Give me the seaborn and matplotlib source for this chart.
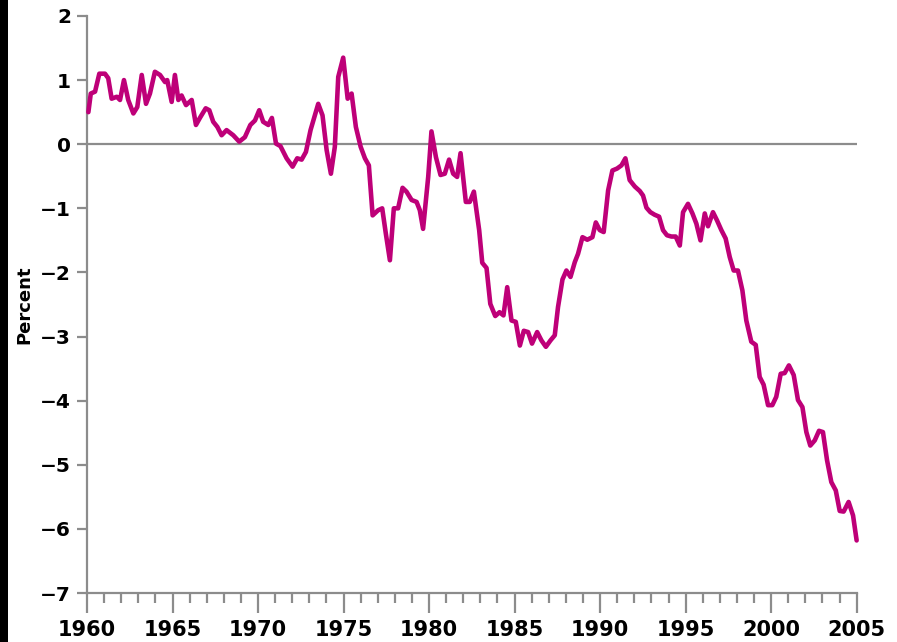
import matplotlib
matplotlib.use('Agg')
import matplotlib.pyplot as plt
import numpy as np
import pandas as pd
import seaborn as sns
from matplotlib.patches import Rectangle
from matplotlib.ticker import MultipleLocator

# Valores (ano, percentual)
years = [
    1960.08, 1960.22, 1960.47, 1960.72, 1961.05, 1961.24, 1961.44, 1961.74, 1961.93, 1962.16,
    1962.41, 1962.71, 1962.94, 1963.20, 1963.45, 1963.68, 1963.97, 1964.27, 1964.56, 1964.69,
    1964.95, 1965.14, 1965.34, 1965.53, 1965.79, 1966.12, 1966.37, 1966.60, 1966.94, 1967.15,
    1967.38, 1967.62, 1967.87, 1968.16, 1968.55, 1968.90, 1969.23, 1969.55, 1969.82, 1970.07,
    1970.30, 1970.60, 1970.81, 1971.05, 1971.31, 1971.67, 1972.02, 1972.29, 1972.55, 1972.80,
    1973.07, 1973.52, 1973.77, 1974.01, 1974.26, 1974.49, 1974.69, 1974.98, 1975.24, 1975.47,
    1975.72, 1976.00, 1976.25, 1976.48, 1976.70, 1977.02, 1977.26, 1977.47, 1977.71, 1977.94,
    1978.19, 1978.45, 1978.68, 1978.98, 1979.27, 1979.46, 1979.65, 1979.95, 1980.14, 1980.40,
    1980.67, 1980.92, 1981.17, 1981.41, 1981.64, 1981.84, 1982.15, 1982.38, 1982.62, 1982.93,
    1983.11, 1983.36, 1983.58, 1983.87, 1984.12, 1984.35, 1984.57, 1984.82, 1985.07, 1985.31,
    1985.54, 1985.79, 1986.02, 1986.32, 1986.57, 1986.83, 1987.10, 1987.35, 1987.54, 1987.80,
    1988.03, 1988.27, 1988.52, 1988.71, 1988.97, 1989.25, 1989.55, 1989.75, 1989.98, 1990.21,
    1990.47, 1990.72, 1990.99, 1991.25, 1991.48, 1991.73, 1992.03, 1992.32, 1992.51, 1992.71,
    1992.94, 1993.19, 1993.45, 1993.68, 1993.91, 1994.17, 1994.42, 1994.66, 1994.85, 1995.14,
    1995.40, 1995.63, 1995.87, 1996.12, 1996.31, 1996.60, 1996.84, 1997.09, 1997.34, 1997.58,
    1997.81, 1998.06, 1998.32, 1998.55, 1998.84, 1999.10, 1999.33, 1999.56, 1999.82, 2000.07,
    2000.30, 2000.56, 2000.79, 2001.04, 2001.32, 2001.57, 2001.83, 2002.06, 2002.29, 2002.55,
    2002.80, 2003.03, 2003.27, 2003.52, 2003.78, 2004.01, 2004.24, 2004.53, 2004.79, 2005.00,
]
percent = [
    0.50, 0.79, 0.82, 1.10, 1.10, 1.03, 0.71, 0.74, 0.69, 1.00,
    0.69, 0.48, 0.58, 1.08, 0.63, 0.79, 1.13, 1.08, 0.97, 1.00,
    0.66, 1.08, 0.69, 0.76, 0.61, 0.69, 0.30, 0.41, 0.56, 0.53,
    0.35, 0.27, 0.14, 0.22, 0.14, 0.04, 0.11, 0.30, 0.37, 0.53,
    0.35, 0.30, 0.41, 0.01, -0.03, -0.22, -0.35, -0.22, -0.24, -0.12,
    0.22, 0.63, 0.45, -0.09, -0.46, -0.04, 1.05, 1.35, 0.71, 0.79,
    0.27, -0.04, -0.22, -0.33, -1.11, -1.03, -1.00, -1.39, -1.81, -1.00,
    -1.00, -0.68, -0.74, -0.87, -0.90, -1.03, -1.32, -0.51, 0.20, -0.20,
    -0.48, -0.46, -0.24, -0.46, -0.51, -0.14, -0.90, -0.90, -0.74, -1.34,
    -1.85, -1.93, -2.49, -2.68, -2.62, -2.67, -2.23, -2.75, -2.77, -3.14,
    -2.91, -2.93, -3.11, -2.93, -3.06, -3.16, -3.06, -2.98, -2.54, -2.11,
    -1.97, -2.07, -1.84, -1.71, -1.45, -1.49, -1.45, -1.22, -1.34, -1.37,
    -0.72, -0.41, -0.38, -0.33, -0.22, -0.56, -0.66, -0.73, -0.80, -0.99,
    -1.06, -1.10, -1.13, -1.34, -1.42, -1.44, -1.44, -1.58, -1.06, -0.93,
    -1.08, -1.24, -1.50, -1.08, -1.28, -1.06, -1.19, -1.34, -1.47, -1.76,
    -1.97, -1.97, -2.28, -2.75, -3.08, -3.13, -3.63, -3.75, -4.07, -4.07,
    -3.94, -3.58, -3.57, -3.45, -3.60, -3.99, -4.10, -4.49, -4.70, -4.62,
    -4.47, -4.49, -4.93, -5.27, -5.40, -5.72, -5.73, -5.58, -5.79, -6.18,
]

df = pd.DataFrame({'ano': years, 'percent': percent})

sns.set_style('white')
plt.rcParams['font.family'] = ['DejaVu Sans']

fig = plt.figure(figsize=(8.97, 6.42), dpi=100)
ax = fig.add_axes([0.097, 0.0763, 0.858, 0.8988])

# Faixa preta à esquerda, como no original
fig.patches.append(Rectangle((0, 0), 8 / 897, 1, transform=fig.transFigure,
                             facecolor='black', edgecolor='none', zorder=-1))

grey = '#8c8c8c'
ax.axhline(0, color=grey, linewidth=1.6, zorder=1)
sns.lineplot(data=df, x='ano', y='percent', color='#BE0078', linewidth=3.3,
             ax=ax, zorder=3)
for ln in ax.lines[1:]:
    ln.set_clip_on(False)
    ln.set_solid_capstyle('round')
    ln.set_solid_joinstyle('round')

ax.set_xlim(1960, 2005)
ax.set_ylim(-7, 2)
ax.set_xticks(range(1960, 2006, 5))
ax.xaxis.set_minor_locator(MultipleLocator(1))
ax.set_yticks(range(-7, 3))

for s in ['top', 'right']:
    ax.spines[s].set_visible(False)
for s in ['left', 'bottom']:
    ax.spines[s].set_color(grey)
    ax.spines[s].set_linewidth(1.6)

ax.tick_params(axis='x', which='major', direction='out', length=14.5, width=1.6,
               color=grey, labelsize=15, pad=5, bottom=True, labelcolor='black')
ax.tick_params(axis='x', which='minor', direction='out', length=7.5, width=1.6,
               color=grey, bottom=True)
ax.tick_params(axis='y', direction='out', length=7.5, width=1.6, color=grey,
               labelsize=14.5, pad=4, left=True, labelcolor='black')
for lab in ax.get_xticklabels() + ax.get_yticklabels():
    lab.set_fontweight('bold')

ax.set_xlabel('')
ax.set_ylabel('Percent', fontsize=13, fontweight='bold', color='black')
ax.yaxis.set_label_coords(-0.07, 0.5)
ax.grid(False)

plt.savefig('out.png', dpi=100, facecolor='white')
